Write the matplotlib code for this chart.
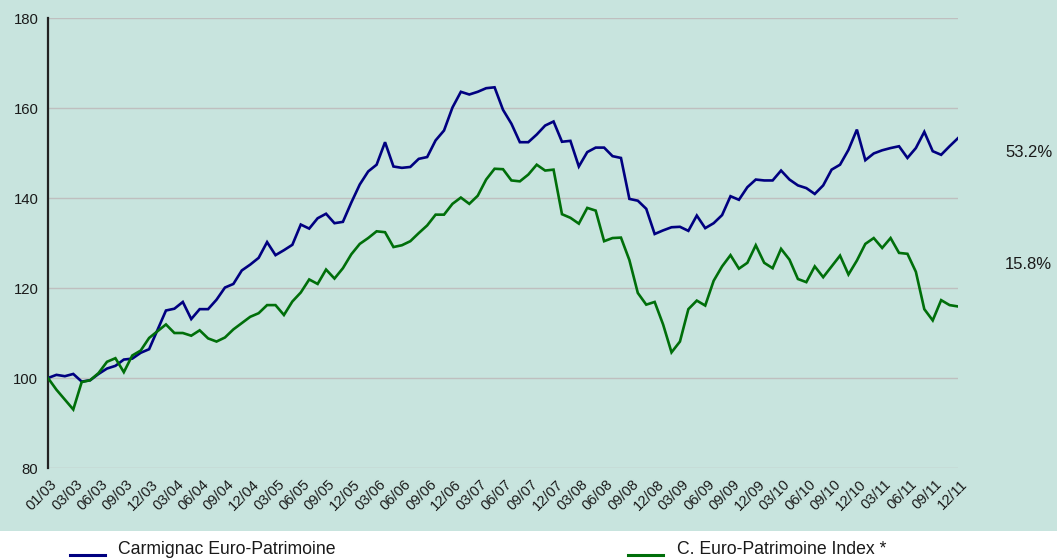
import matplotlib
matplotlib.use("Agg")
import matplotlib.pyplot as plt
import matplotlib.transforms as mtransforms
from matplotlib.lines import Line2D
from matplotlib.patches import Rectangle

plt.rcParams['font.family'] = ['Liberation Sans', 'DejaVu Sans']

# monthly values, base 100
fund = [100.0, 100.7, 100.4, 100.9, 99.2, 99.5, 100.9, 102.1, 102.7, 104.1,
        104.3, 105.6, 106.4, 110.7, 115.0, 115.4, 116.9, 113.1, 115.3, 115.3,
        117.4, 120.1, 120.9, 123.9, 125.2, 126.7, 130.2, 127.3, 128.4, 129.6,
        134.1, 133.2, 135.5, 136.5, 134.4, 134.7, 139.0, 143.0, 145.9, 147.4,
        152.4, 147.0, 146.7, 146.9, 148.7, 149.1, 152.8, 155.0, 160.1, 163.6,
        163.0, 163.6, 164.4, 164.6, 159.6, 156.5, 152.4, 152.4, 154.1, 156.1,
        157.0, 152.5, 152.7, 147.0, 150.2, 151.2, 151.2, 149.3, 148.9, 139.8,
        139.4, 137.6, 132.0, 132.8, 133.5, 133.6, 132.7, 136.1, 133.3, 134.4,
        136.2, 140.4, 139.6, 142.4, 144.1, 143.9, 143.9, 146.1, 144.1, 142.8,
        142.2, 140.9, 142.8, 146.3, 147.4, 150.7, 155.2, 148.4, 149.9, 150.6,
        151.1, 151.5, 148.9, 151.1, 154.7, 150.4, 149.6, 151.5, 153.3]

index = [100.0, 97.4, 95.2, 93.0, 99.1, 99.5, 101.1, 103.6, 104.4, 101.3,
         105.0, 106.1, 108.9, 110.4, 111.9, 110.0, 110.0, 109.4, 110.6, 108.8,
         108.1, 109.0, 110.8, 112.2, 113.6, 114.4, 116.2, 116.2, 114.0, 117.0,
         119.0, 121.9, 120.9, 124.1, 122.1, 124.4, 127.5, 129.8, 131.1, 132.6,
         132.4, 129.1, 129.5, 130.4, 132.2, 133.9, 136.3, 136.3, 138.7, 140.1,
         138.7, 140.5, 144.1, 146.5, 146.4, 143.9, 143.7, 145.2, 147.4, 146.1,
         146.3, 136.4, 135.6, 134.3, 137.8, 137.2, 130.4, 131.1, 131.2, 126.2,
         118.9, 116.3, 116.9, 111.9, 105.7, 108.1, 115.3, 117.2, 116.1, 121.6,
         124.8, 127.3, 124.3, 125.6, 129.5, 125.6, 124.4, 128.7, 126.3, 122.0,
         121.3, 124.8, 122.4, 124.8, 127.2, 123.0, 126.1, 129.8, 131.1, 128.9,
         131.1, 127.8, 127.6, 123.6, 115.3, 112.8, 117.3, 116.2, 115.9]

tick_labels = ['01/03', '03/03', '06/03', '09/03', '12/03',
               '03/04', '06/04', '09/04', '12/04',
               '03/05', '06/05', '09/05', '12/05',
               '03/06', '06/06', '09/06', '12/06',
               '03/07', '06/07', '09/07', '12/07',
               '03/08', '06/08', '09/08', '12/08',
               '03/09', '06/09', '09/09', '12/09',
               '03/10', '06/10', '09/10', '12/10',
               '03/11', '06/11', '09/11', '12/11']

series_names = ['Carmignac Euro-Patrimoine', 'C. Euro-Patrimoine Index *']
end_labels = ['53.2%', '15.8%']
end_label_y = [150.2, 125.3]

teal = '#c8e4de'
blue = '#000080'
green = '#006f0a'
ink = '#1a1a1a'

W, H = 1057, 559
fig = plt.figure(figsize=(W / 100, H / 100), dpi=100, facecolor='white')
fig.patches.append(Rectangle((0, (H - 531) / H), 1, 531 / H, transform=fig.transFigure,
                             facecolor=teal, edgecolor='none', zorder=-10))

ax = fig.add_axes([48 / W, (H - 468) / H, 910 / W, 450 / H])
ax.set_facecolor(teal)

x = list(range(len(fund)))
ax.plot(x, fund, color=blue, lw=1.9, solid_joinstyle='miter', zorder=3)
ax.plot(x, index, color=green, lw=1.9, solid_joinstyle='miter', zorder=3)

ax.set_xlim(0, len(fund) - 1)
ax.set_ylim(80, 180)
ax.set_yticks([80, 100, 120, 140, 160, 180])
ax.yaxis.grid(True, color='#bfbfbf', lw=1.0)
ax.set_axisbelow(True)

ax.tick_params(axis='both', length=0, labelsize=10.7, colors=ink)
ax.tick_params(axis='y', pad=7)
ax.tick_params(axis='x', pad=2)

ax.set_xticks(range(0, len(fund), 3))
ax.set_xticklabels(tick_labels, rotation=45, ha='right', va='center',
                   rotation_mode='anchor', fontsize=10.5)
# nudge the slanted labels so their ends sit just right of each tick
offset = mtransforms.ScaledTranslation(7 / 100, -11 / 100, fig.dpi_scale_trans)
for lab in ax.get_xticklabels():
    lab.set_transform(lab.get_transform() + offset)

for s in ['top', 'right', 'bottom']:
    ax.spines[s].set_visible(False)
ax.spines['left'].set_color('#222222')
ax.spines['left'].set_linewidth(1.6)

for lbl, yv in zip(end_labels, end_label_y):
    ax.text((1005 - 48) / 910, yv, lbl, transform=ax.get_yaxis_transform(),
            ha='left', va='center', fontsize=12, color=ink, clip_on=False)

# legend drawn in the white strip at the bottom
for (x0, x1, tx), col, name in zip([(70, 105, 118), (628, 663, 677)], [blue, green], series_names):
    fig.lines.append(Line2D([x0 / W, x1 / W], [(H - 555) / H] * 2, transform=fig.transFigure,
                            color=col, lw=2.2))
    fig.text(tx / W, (H - 550) / H, name, ha='left', va='center', fontsize=12.7, color=ink)

fig.savefig('out.png', dpi=100, facecolor=fig.get_facecolor())
